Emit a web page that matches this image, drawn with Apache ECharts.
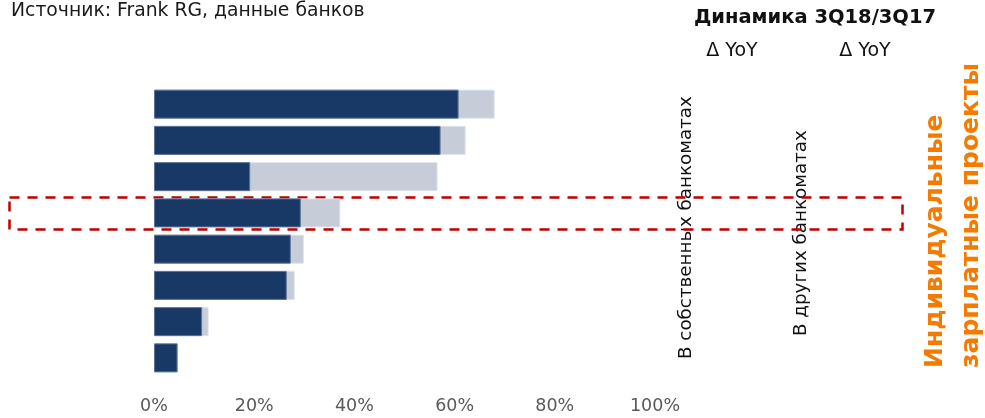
<!DOCTYPE html>
<html><head><meta charset="utf-8">
<script src="https://cdn.jsdelivr.net/npm/echarts@6/dist/echarts.min.js"></script>
<style>html,body{margin:0;padding:0;background:#fff}#c{width:985px;height:418px}</style>
</head><body><div id="c"></div>
<script>
var categories = ['1','2','3','4','5','6','7','8'];
var ownAtm = [60.8, 57.2, 19.2, 29.3, 27.3, 26.5, 9.6, 4.7];
var totalAtm = [68.0, 62.2, 56.6, 37.2, 29.9, 28.1, 10.9, 4.8];
var xTicks = [0, 20, 40, 60, 80, 100];

var chart = echarts.init(document.getElementById('c'));
var F = 'DejaVu Sans';
chart.setOption({
  animation: false,
  grid: {left: 154, right: 330, top: 86, height: 290},
  xAxis: {type: 'value', min: xTicks[0], max: xTicks[xTicks.length-1], interval: 20,
    axisLine: {show: false}, axisTick: {show: false}, splitLine: {show: false},
    axisLabel: {formatter: '{value}%', color: '#595959', fontSize: 17.5, fontFamily: F, margin: 21}},
  yAxis: {type: 'category', data: categories, inverse: true, show: false},
  series: [
    {type: 'bar', data: totalAtm, barWidth: '80%', barGap: '-100%',
      itemStyle: {color: '#c6cdd8', borderColor: '#dde2ea', borderWidth: 1}},
    {type: 'bar', data: ownAtm, barWidth: '80%', barGap: '-100%',
      itemStyle: {color: '#183966', borderColor: '#5c7396', borderWidth: 1}}
  ],
  graphic: [
    {type: 'text', x: 11, y: 11, style: {text: 'Источник: Frank RG, данные банков', font: '18.8px "DejaVu Sans"', fill: '#1a1a1a', textAlign: 'left', textVerticalAlign: 'middle'}},
    {type: 'text', x: 815, y: 18, style: {text: 'Динамика 3Q18/3Q17', font: 'bold 19.5px "DejaVu Sans"', fill: '#111', textAlign: 'center', textVerticalAlign: 'middle'}},
    {type: 'text', x: 732, y: 51, style: {text: 'Δ YoY', font: '19px "DejaVu Sans"', fill: '#111', textAlign: 'center', textVerticalAlign: 'middle'}},
    {type: 'text', x: 865, y: 51, style: {text: 'Δ YoY', font: '19px "DejaVu Sans"', fill: '#111', textAlign: 'center', textVerticalAlign: 'middle'}},
    {type: 'text', x: 686, y: 359, rotation: Math.PI/2, style: {text: 'В собственных банкоматах', font: '18.3px "DejaVu Sans"', fill: '#111', textAlign: 'left', textVerticalAlign: 'middle'}},
    {type: 'text', x: 801, y: 336, rotation: Math.PI/2, style: {text: 'В других банкоматах', font: '18.3px "DejaVu Sans"', fill: '#111', textAlign: 'left', textVerticalAlign: 'middle'}},
    {type: 'text', x: 935, y: 368, rotation: Math.PI/2, style: {text: 'Индивидуальные', font: 'bold 25px "DejaVu Sans"', fill: '#f47b00', textAlign: 'left', textVerticalAlign: 'middle'}},
    {type: 'text', x: 971, y: 368, rotation: Math.PI/2, style: {text: 'зарплатные проекты', font: 'bold 25px "DejaVu Sans"', fill: '#f47b00', textAlign: 'left', textVerticalAlign: 'middle'}},
    {type: 'rect', shape: {x: 9.5, y: 197.5, width: 893, height: 32}, style: {fill: 'none', stroke: '#c00000', lineWidth: 2.5, lineDash: [10, 8]}}
  ]
});
</script></body></html>
